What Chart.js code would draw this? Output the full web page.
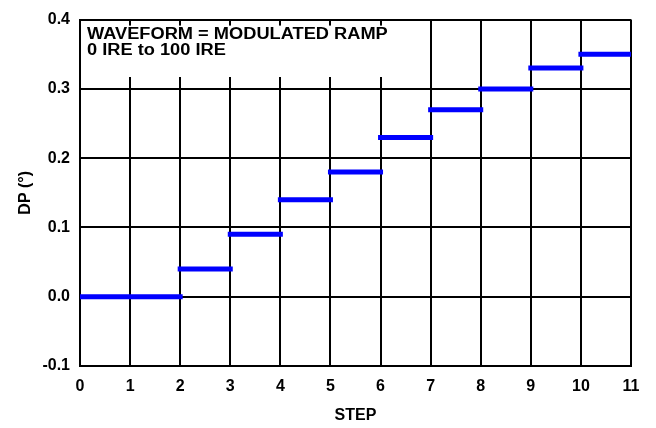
<!DOCTYPE html>
<html>
<head>
<meta charset="utf-8">
<script src="https://cdn.jsdelivr.net/npm/chart.js@4"></script>
<style>
  html, body { margin: 0; padding: 0; background: #fff; }
  canvas { display: block; }
</style>
</head>
<body>
<canvas id="dp_chart" width="656" height="428"></canvas>
<script>
// step ranges and measured differential phase (deg)
const stepStart = [0, 2, 3, 4, 5, 6, 7, 8, 9, 10];
const stepEnd   = [2, 3, 4, 5, 6, 7, 8, 9, 10, 11];
const dpValues  = [0.00, 0.04, 0.09, 0.14, 0.18, 0.23, 0.27, 0.30, 0.33, 0.35];

const xTickValues = [0, 1, 2, 3, 4, 5, 6, 7, 8, 9, 10, 11];
const yTickValues = [-0.1, 0.0, 0.1, 0.2, 0.3, 0.4];

const noteLines = ['WAVEFORM = MODULATED RAMP', '0 IRE to 100 IRE'];

// one dataset, segments split by null points
const points = [];
dpValues.forEach((v, i) => {
  points.push({ x: stepStart[i], y: v });
  points.push({ x: stepEnd[i], y: v });
  points.push({ x: stepEnd[i], y: null });
});

const FONT = 'Liberation Sans, Arial, sans-serif';

// white note box in the top-left of the plot
const noteBox = {
  id: 'noteBox',
  beforeDatasetsDraw(chart) {
    const { ctx, chartArea } = chart;
    ctx.save();
    ctx.fillStyle = '#ffffff';
    ctx.fillRect(chartArea.left + 1.5, chartArea.top + 6, 407 - chartArea.left, 77 - chartArea.top - 6);
    ctx.fillStyle = '#000000';
    ctx.font = 'bold 16px ' + FONT;
    ctx.textBaseline = 'alphabetic';
    // source text is set a bit wide
    ctx.translate(chartArea.left + 7, 0);
    ctx.scale(1.14, 1);
    ctx.fillText(noteLines[0], 0, 39);
    ctx.fillText(noteLines[1], 0, 55);
    ctx.restore();
  }
};

const ctx = document.getElementById('dp_chart');

new Chart(ctx, {
  type: 'line',
  data: {
    datasets: [{
      data: points,
      borderColor: '#0000ff',
      borderWidth: 5,
      borderCapStyle: 'square',
      pointRadius: 0,
      spanGaps: false,
      tension: 0
    }]
  },
  plugins: [noteBox],
  options: {
    responsive: false,
    animation: false,
    layout: {
      padding: { top: 13, right: 25, left: 0, bottom: 0 }
    },
    plugins: {
      legend: { display: false },
      tooltip: { enabled: false }
    },
    scales: {
      x: {
        type: 'linear',
        min: 0,
        max: 11,
        afterFit(scale) { scale.height = 62; },
        afterBuildTicks(scale) { scale.ticks = xTickValues.map(v => ({ value: v })); },
        grid: { color: '#000', lineWidth: 2, drawTicks: false },
        border: { color: '#000', width: 2 },
        ticks: {
          color: '#000',
          padding: 11,
          font: { family: FONT, size: 16, weight: 'bold' }
        },
        title: {
          display: true,
          text: 'STEP',
          color: '#000',
          padding: { top: 6, bottom: 3 },
          font: { family: FONT, size: 16, weight: 'bold' }
        }
      },
      y: {
        min: -0.1,
        max: 0.4,
        afterFit(scale) { scale.width = 80; },
        afterBuildTicks(scale) { scale.ticks = yTickValues.map(v => ({ value: v })); },
        grid: { color: '#000', lineWidth: 2, drawTicks: false },
        border: { color: '#000', width: 2 },
        ticks: {
          color: '#000',
          padding: 10,
          font: { family: FONT, size: 16, weight: 'bold' },
          callback: v => v.toFixed(1)
        },
        title: {
          display: true,
          text: 'DP (°)',
          color: '#000',
          padding: { top: 16, bottom: 0 },
          font: { family: FONT, size: 16, weight: 'bold' }
        }
      }
    }
  }
});
</script>
</body>
</html>
